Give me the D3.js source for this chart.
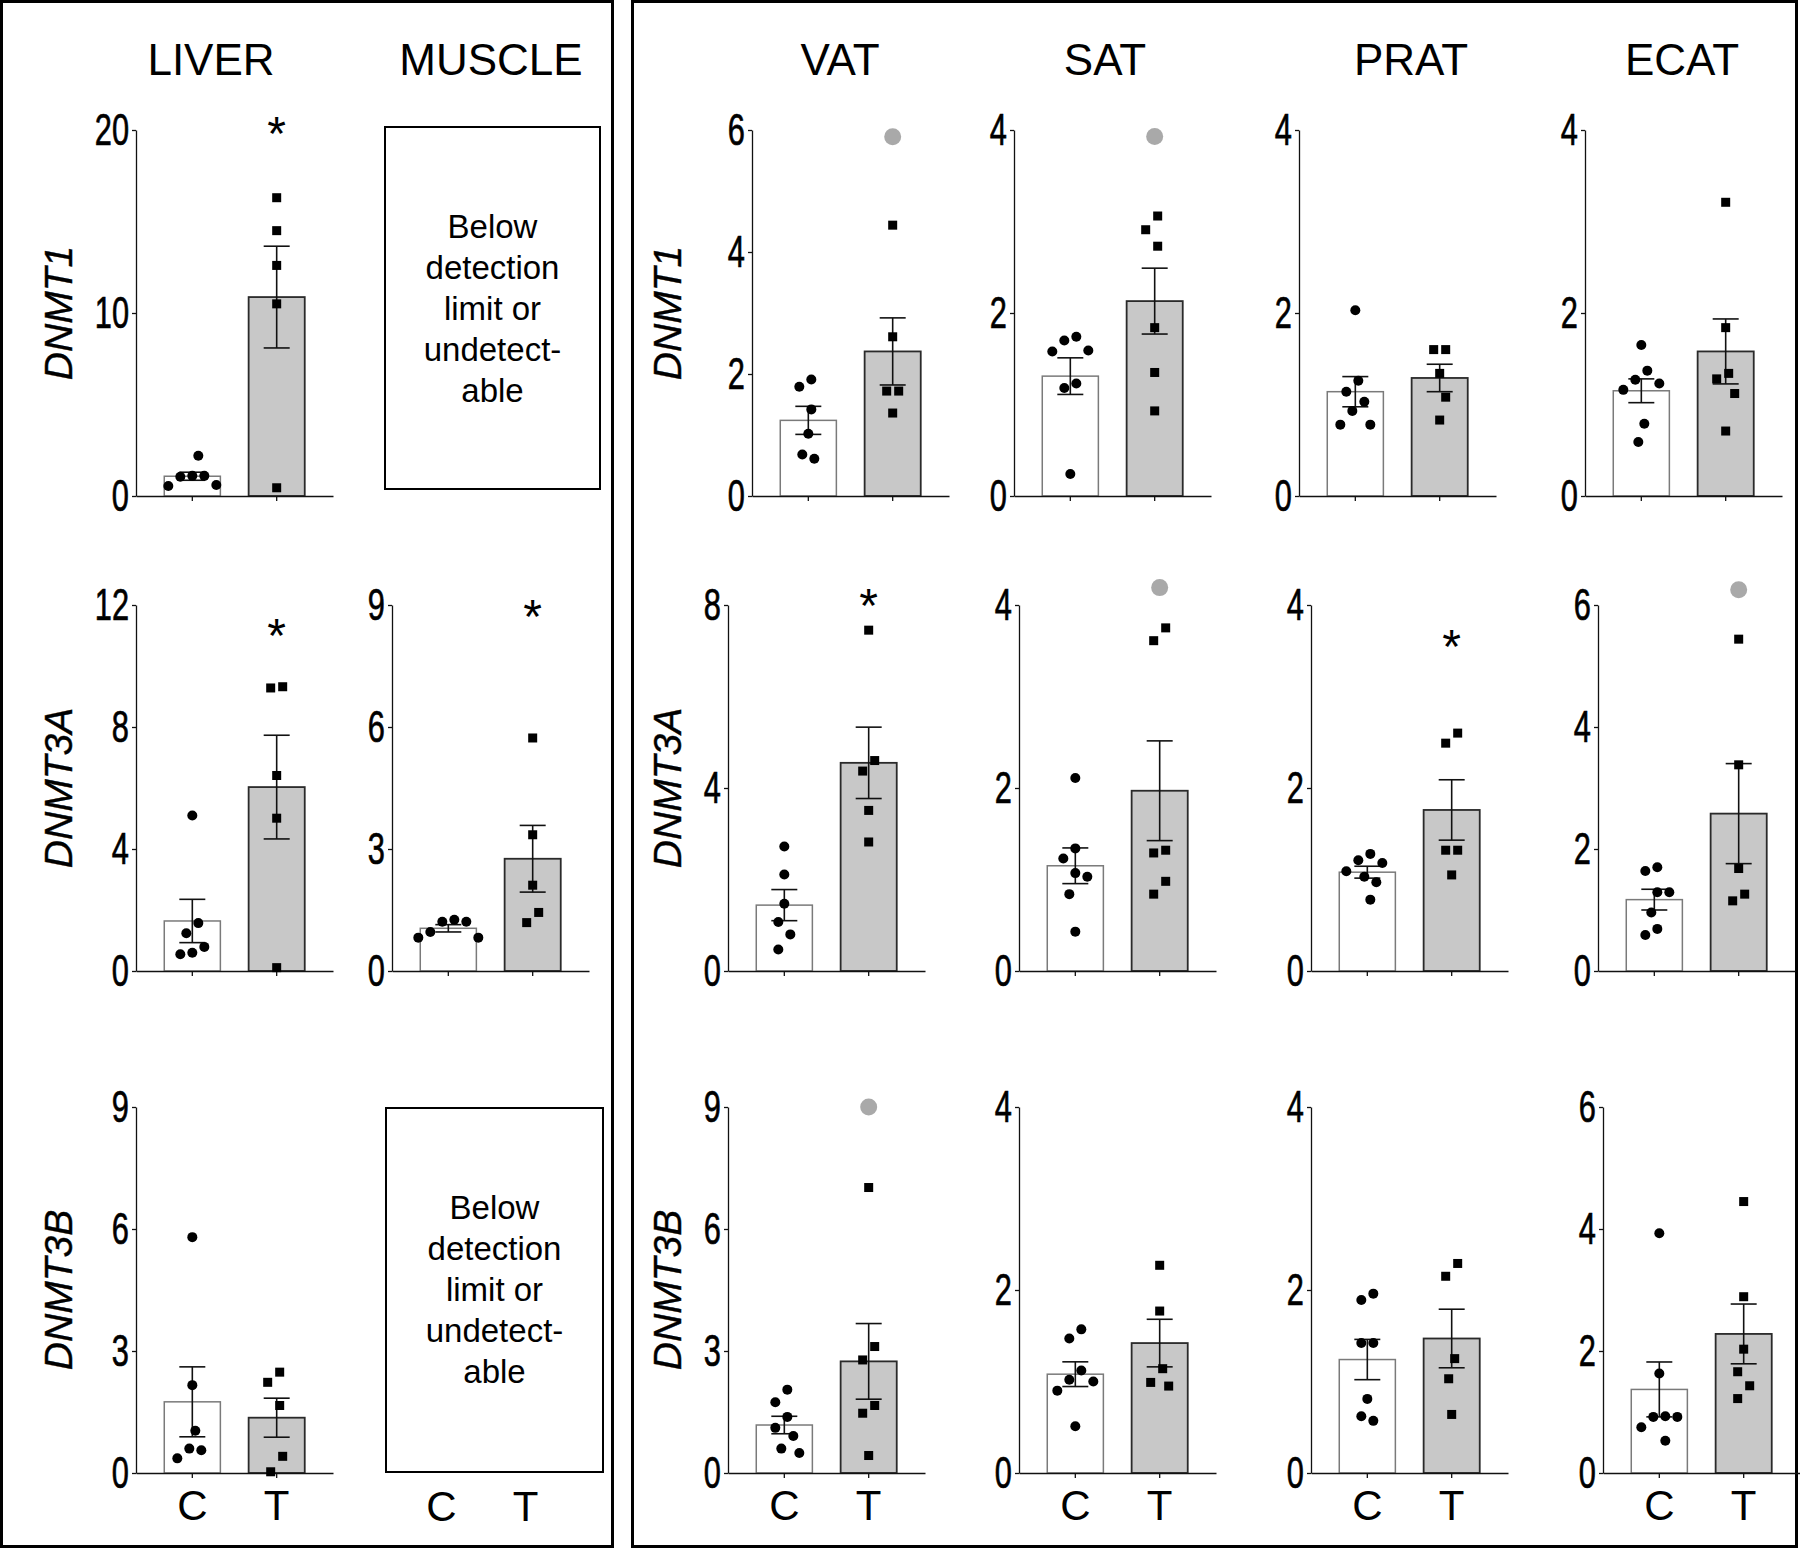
<!DOCTYPE html>
<html><head><meta charset="utf-8">
<script src="https://cdn.jsdelivr.net/npm/d3@7"></script>
<style>body{margin:0;background:#fff} svg{display:block}</style>
</head><body>
<svg id="chart" width="1800" height="1549"></svg>
<script>
// ---------------- DATA ----------------
const tissues = ["LIVER", "MUSCLE", "VAT", "SAT", "PRAT", "ECAT"];
const genes = ["DNMT1", "DNMT3A", "DNMT3B"];
const groups = ["C", "T"];
const belowText = ["Below", "detection", "limit or", "undetect-", "able"];

// y-axis tick labels per tissue (null = below detection limit)
const dnmt1Ticks  = [[0, 10, 20], null, [0, 2, 4, 6], [0, 2, 4], [0, 2, 4], [0, 2, 4]];
const dnmt3aTicks = [[0, 4, 8, 12], [0, 3, 6, 9], [0, 4, 8], [0, 2, 4], [0, 2, 4], [0, 2, 4, 6]];
const dnmt3bTicks = [[0, 3, 6, 9], null, [0, 3, 6, 9], [0, 2, 4], [0, 2, 4], [0, 2, 4, 6]];

// DNMT1
const dnmt1MeanC = [1.08, null, 1.24, 1.31, 1.14, 1.15];
const dnmt1SemC  = [0.22, null, 0.23, 0.20, 0.165, 0.13];
const dnmt1MeanT = [10.87, null, 2.37, 2.13, 1.29, 1.58];
const dnmt1SemT  = [2.78, null, 0.55, 0.36, 0.15, 0.355];
const dnmt1PtsC = [[2.2, 1.1, 1.05, 1.1, 0.6, 0.55], null,
  [1.91, 1.79, 1.42, 1.02, 0.61, 0.68],
  [1.70, 1.74, 1.58, 1.59, 1.23, 1.18, 0.24],
  [2.03, 1.26, 1.14, 1.03, 0.93, 0.78, 0.78],
  [1.65, 1.37, 1.27, 1.23, 1.16, 0.79, 0.59]];
const dnmt1PtsT = [[16.3, 14.5, 12.6, 10.5, 0.45], null,
  [4.44, 2.61, 1.72, 1.72, 1.36],
  [3.06, 2.91, 2.73, 1.84, 1.35, 0.93],
  [1.60, 1.60, 1.34, 1.08, 0.83],
  [3.21, 1.84, 1.34, 1.28, 1.12, 0.71]];
const dnmt1Star = [20, null, null, null, null, null];
const dnmt1Gray = [null, null, 5.89, 3.93, null, null];

// DNMT3A
const dnmt3aMeanC = [1.64, 1.05, 1.44, 1.15, 1.08, 1.17];
const dnmt3aSemC  = [0.71, 0.09, 0.34, 0.195, 0.065, 0.17];
const dnmt3aMeanT = [6.03, 2.76, 4.55, 1.97, 1.76, 2.58];
const dnmt3aSemT  = [1.70, 0.82, 0.78, 0.545, 0.33, 0.82];
const dnmt3aPtsC = [[5.10, 1.57, 1.24, 0.79, 0.55, 0.60],
  [1.21, 1.26, 1.21, 0.96, 0.82, 0.82],
  [2.72, 2.11, 1.47, 1.07, 0.80, 0.47],
  [2.11, 1.34, 1.23, 1.03, 1.07, 0.84, 0.43],
  [1.28, 1.21, 1.18, 1.09, 1.03, 0.97, 0.78],
  [1.70, 1.64, 1.29, 1.29, 0.96, 0.59, 0.69]];
const dnmt3aPtsT = [[9.32, 9.28, 6.41, 5.01, 0.11],
  [5.73, 3.35, 2.11, 1.44, 1.19],
  [7.45, 4.60, 4.37, 3.51, 2.82],
  [3.75, 3.61, 1.32, 1.29, 0.98, 0.84],
  [2.60, 2.49, 1.32, 1.32, 1.05],
  [5.44, 3.38, 1.68, 1.26, 1.15]];
const dnmt3aStar = [11.1, 8.8, 8.06, null, 3.58, null];
const dnmt3aGray = [null, null, null, 4.19, null, 6.25];

// DNMT3B
const dnmt3bMeanC = [1.75, null, 1.18, 1.08, 1.24, 1.37];
const dnmt3bSemC  = [0.86, null, 0.215, 0.135, 0.22, 0.45];
const dnmt3bMeanT = [1.36, null, 2.745, 1.42, 1.47, 2.28];
const dnmt3bSemT  = [0.48, null, 0.93, 0.26, 0.32, 0.49];
const dnmt3bPtsC = [[5.80, 2.16, 1.04, 0.60, 0.56, 0.36], null,
  [2.05, 1.74, 1.38, 1.11, 0.91, 0.60, 0.49],
  [1.57, 1.47, 1.12, 1.00, 1.02, 0.90, 0.51],
  [1.96, 1.89, 1.42, 1.42, 0.81, 0.62, 0.57],
  [3.93, 1.63, 0.92, 0.92, 0.93, 0.75, 0.53]];
const dnmt3bPtsT = [[2.48, 2.23, 1.66, 0.41, 0.03], null,
  [7.02, 3.11, 2.78, 1.66, 1.47, 0.43],
  [2.27, 1.77, 1.14, 0.99, 0.95],
  [2.29, 2.15, 1.25, 1.03, 0.64],
  [4.45, 2.89, 2.03, 1.66, 1.43, 1.22]];
const dnmt3bStar = [null, null, null, null, null, null];
const dnmt3bGray = [null, null, 9.0, null, null, null];

// ---------------- LAYOUT ----------------
const W = 1800, H = 1549;
const FONT = "'Liberation Sans', Arial, Helvetica, sans-serif";
const rowTop = [130, 605, 1107];
const rowBottom = [496, 971, 1473];
const colAxisX = [[136, 387, 752, 1014, 1299, 1585],
                  [136, 392, 728, 1019, 1311, 1598],
                  [136, 385, 728, 1019, 1311, 1603]];
const titleX = [211, 491, 840, 1105, 1411, 1682];
const boxes = [[385, 127, 600, 489], null, [386, 1108, 603, 1472]];
const panelW = 197;

const ticksBy = [dnmt1Ticks, dnmt3aTicks, dnmt3bTicks];
const meanC = [dnmt1MeanC, dnmt3aMeanC, dnmt3bMeanC];
const semC = [dnmt1SemC, dnmt3aSemC, dnmt3bSemC];
const meanT = [dnmt1MeanT, dnmt3aMeanT, dnmt3bMeanT];
const semT = [dnmt1SemT, dnmt3aSemT, dnmt3bSemT];
const ptsC = [dnmt1PtsC, dnmt3aPtsC, dnmt3bPtsC];
const ptsT = [dnmt1PtsT, dnmt3aPtsT, dnmt3bPtsT];
const stars = [dnmt1Star, dnmt3aStar, dnmt3bStar];
const grays = [dnmt1Gray, dnmt3aGray, dnmt3bGray];

const svg = d3.select("#chart").attr("font-family", FONT);
svg.append("rect").attr("width", W).attr("height", H).attr("fill", "#fff");

// outer frames
svg.append("rect").attr("x", 1.5).attr("y", 1.5).attr("width", 611).attr("height", 1545)
  .attr("fill", "none").attr("stroke", "#000").attr("stroke-width", 3);
svg.append("rect").attr("x", 632.5).attr("y", 1.5).attr("width", 1164).attr("height", 1545)
  .attr("fill", "none").attr("stroke", "#000").attr("stroke-width", 3);

// column titles
svg.selectAll("text.title").data(tissues).join("text").attr("class", "title")
  .attr("x", (d, i) => titleX[i]).attr("y", 75).attr("text-anchor", "middle")
  .attr("font-size", 44).attr("fill", "#000").text(d => d);

// Prism-like scatter spreading: greedy placement with elliptical collision, then centre each cluster
function swarm(vals, y, step = 6, sx = 8, sy = 24) {
  const items = vals.map((v, i) => ({ v, i, py: y(v), off: 0 })).sort((a, b) => a.py - b.py);
  const placed = [];
  const cands = [0];
  for (let k = 1; k <= 6; k++) cands.push(-k * step, k * step);
  const collide = (a, ox, b) => {
    const dx = (ox - b.off) / sx, dy = (a.py - b.py) / sy;
    return dx * dx + dy * dy < 1;
  };
  items.forEach(it => {
    for (const ox of cands) {
      if (!placed.some(p => collide(it, ox, p))) { it.off = ox; break; }
    }
    placed.push(it);
  });
  // cluster (chains of vertically close points) and centre them
  let cl = [];
  const flush = () => {
    if (cl.length) {
      const m = d3.mean(cl, d => d.off);
      const shift = Math.round(m / (step / 2)) * (step / 2);
      cl.forEach(d => d.off -= shift);
    }
    cl = [];
  };
  items.forEach(it => {
    if (cl.length && it.py - cl[cl.length - 1].py >= sy) flush();
    cl.push(it);
  });
  flush();
  const off = new Array(vals.length).fill(0);
  items.forEach(it => off[it.i] = it.off);
  return off;
}

function drawPanel(r, c) {
  const ticks = ticksBy[r][c];
  const x0 = colAxisX[r][c];
  const x = d3.scaleBand().domain(groups).range([0, panelW]).padding(0.335);
  const g = svg.append("g").attr("transform", `translate(${x0},0)`);

  if (!ticks) {
    const b = boxes[r];
    svg.append("rect").attr("x", b[0]).attr("y", b[1]).attr("width", b[2] - b[0]).attr("height", b[3] - b[1])
      .attr("fill", "none").attr("stroke", "#000").attr("stroke-width", 2);
    svg.append("g").selectAll("text").data(belowText).join("text")
      .attr("x", (b[0] + b[2]) / 2).attr("y", (d, i) => b[1] + 111 + i * 41)
      .attr("text-anchor", "middle").attr("font-size", 33).attr("fill", "#000").text(d => d);
    if (r === 2) {
      g.selectAll("text.grp").data(groups).join("text").attr("class", "grp")
        .attr("x", d => x(d) + x.bandwidth() / 2).attr("y", rowBottom[r] + 48)
        .attr("text-anchor", "middle").attr("font-size", 42).attr("fill", "#000").text(d => d);
    }
    return;
  }

  const y = d3.scaleLinear().domain([0, ticks[ticks.length - 1]]).range([rowBottom[r], rowTop[r]]);
  const means = [meanC[r][c], meanT[r][c]];
  const sems = [semC[r][c], semT[r][c]];

  // bars
  g.selectAll("rect.bar").data(groups).join("rect").attr("class", "bar")
    .attr("x", d => x(d)).attr("width", x.bandwidth())
    .attr("y", (d, i) => y(means[i])).attr("height", (d, i) => y(0) - y(means[i]))
    .attr("fill", (d, i) => i === 0 ? "#fff" : "#c8c8c8")
    .attr("stroke", (d, i) => i === 0 ? "#7a7a7a" : "#2a2a2a")
    .attr("stroke-width", (d, i) => i === 0 ? 1.5 : 1.8);

  // y axis
  const ya = g.append("g").call(d3.axisLeft(y).tickValues(ticks).tickSize(4).tickSizeOuter(0).tickFormat(d3.format("d")));
  ya.select(".domain").attr("stroke", "#111").attr("stroke-width", 1.3);
  ya.selectAll(".tick line").attr("stroke", "#111").attr("stroke-width", 1.3);
  ya.selectAll(".tick text").attr("font-size", 44).attr("font-family", FONT).attr("fill", "#000")
    .attr("stroke", "#000").attr("stroke-width", 0.7)
    .attr("transform", "scale(0.7,1)").attr("x", -7 / 0.7);

  // x axis
  const xa = g.append("g").attr("transform", `translate(0,${rowBottom[r]})`)
    .call(d3.axisBottom(x).tickSize(5).tickSizeOuter(0).tickPadding(12).tickFormat(r === 2 ? (d => d) : () => ""));
  xa.select(".domain").attr("stroke", "#111").attr("stroke-width", 1.3);
  xa.selectAll(".tick line").attr("stroke", "#111").attr("stroke-width", 1.3);
  xa.selectAll(".tick text").attr("font-size", 42).attr("font-family", FONT).attr("fill", "#000");

  // error bars
  groups.forEach((gname, i) => {
    const cx = x(gname) + x.bandwidth() / 2;
    const lo = y(means[i] - sems[i]), hi = y(means[i] + sems[i]);
    const eb = g.append("g").attr("stroke", "#111").attr("stroke-width", 1.6);
    eb.append("line").attr("x1", cx).attr("x2", cx).attr("y1", lo).attr("y2", hi);
    eb.append("line").attr("x1", cx - 13).attr("x2", cx + 13).attr("y1", lo).attr("y2", lo);
    eb.append("line").attr("x1", cx - 13).attr("x2", cx + 13).attr("y1", hi).attr("y2", hi);
  });

  // points
  const cxC = x("C") + x.bandwidth() / 2, cxT = x("T") + x.bandwidth() / 2;
  const pc = ptsC[r][c], pt = ptsT[r][c];
  const oc = swarm(pc, y), ot = swarm(pt, y);
  g.selectAll("circle.pt").data(pc).join("circle").attr("class", "pt")
    .attr("cx", (d, i) => cxC + oc[i]).attr("cy", d => y(d)).attr("r", 5).attr("fill", "#000");
  g.selectAll("rect.pt").data(pt).join("rect").attr("class", "pt")
    .attr("x", (d, i) => cxT + ot[i] - 4.5).attr("y", d => y(d) - 4.5)
    .attr("width", 9).attr("height", 9).attr("fill", "#000");

  // gray marker
  const gv = grays[r][c];
  if (gv != null) g.append("circle").attr("cx", cxT).attr("cy", y(gv)).attr("r", 8.5).attr("fill", "#a9a9a9");
  // significance star
  const sv = stars[r][c];
  if (sv != null) g.append("text").attr("x", cxT).attr("y", y(sv) + 20).attr("text-anchor", "middle")
    .attr("font-size", 48).attr("fill", "#000").text("*");
}

for (let r = 0; r < 3; r++) for (let c = 0; c < 6; c++) drawPanel(r, c);

// y-axis gene labels
genes.forEach((gname, r) => {
  const cy = (rowTop[r] + rowBottom[r]) / 2;
  [72, 681].forEach(lx => {
    svg.append("text").attr("transform", `translate(${lx},${cy}) rotate(-90)`)
      .attr("text-anchor", "middle").attr("font-style", "italic").attr("font-size", 39)
      .attr("fill", "#000").attr("stroke", "#000").attr("stroke-width", 0.4).text(gname);
  });
});
</script>
</body></html>
